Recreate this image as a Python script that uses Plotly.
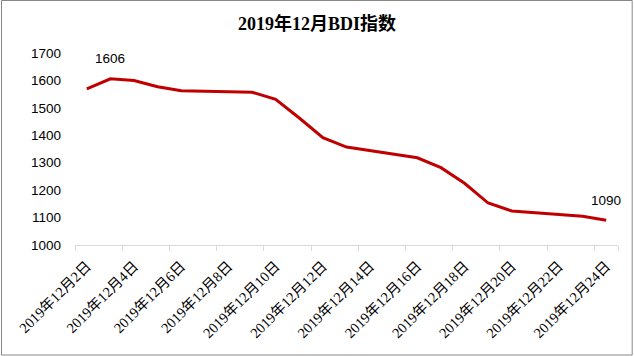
import plotly.graph_objects as go

dates = ["2019-12-02", "2019-12-03", "2019-12-04", "2019-12-05", "2019-12-06",
         "2019-12-09", "2019-12-10", "2019-12-11", "2019-12-12", "2019-12-13",
         "2019-12-16", "2019-12-17", "2019-12-18", "2019-12-19", "2019-12-20",
         "2019-12-23", "2019-12-24"]
bdi = [1569, 1606, 1600, 1577, 1562, 1557, 1531, 1463, 1391, 1357,
       1318, 1282, 1225, 1153, 1124, 1105, 1090]

tick_dates = ["2019-12-%02d" % d for d in range(2, 25, 2)]
tick_labels = ["2019年12月%d日" % d for d in range(2, 25, 2)]
boundary_ticks = ["2019-12-%02d 12:00" % d for d in range(1, 25, 2)] + ["2019-12-24 12:00"]
labelled = [1, 16]  # indices of points with data labels

W, H = 634, 356
L, R, T, B = 75, 16, 53, 111
pw, ph = W - L - R, H - T - B

SERIF = "'Liberation Serif', 'Times New Roman', 'Noto Sans CJK SC', serif"
SANS = "'Liberation Sans', Arial, sans-serif"

fig = go.Figure()
fig.add_trace(go.Scatter(x=dates, y=bdi, mode="lines",
                         line=dict(color="#C00000", width=3), hoverinfo="x+y"))
fig.add_trace(go.Scatter(x=[dates[0]], y=[bdi[0]], xaxis="x2", mode="markers",
                         marker=dict(opacity=0), showlegend=False, hoverinfo="skip"))

for i in labelled:
    fig.add_annotation(x=dates[i], y=bdi[i], text=str(bdi[i]), showarrow=False,
                       yshift=20, font=dict(family=SANS, size=13.5, color="#000"))

xrange = ["2019-12-01 12:00", "2019-12-24 12:00"]
fig.update_layout(
    width=W, height=H,
    margin=dict(l=L, r=R, t=T, b=B, autoexpand=False),
    paper_bgcolor="white", plot_bgcolor="white",
    showlegend=False,
    title=dict(text="<b>2019年12月BDI指数</b>", x=0.5, xanchor="center", y=1 - 24 / H, yanchor="middle",
               font=dict(family=SERIF, size=18, color="#000")),
    xaxis=dict(type="date", range=xrange, tickmode="array", tickvals=tick_dates, ticktext=tick_labels,
               tickangle=-45, ticks="", showgrid=False, showline=True, linecolor="#d9d9d9", linewidth=1,
               zeroline=False, automargin=False, ticklabelstandoff=6,
               tickfont=dict(family=SERIF, size=14.5, color="#000")),
    xaxis2=dict(type="date", range=xrange, overlaying="x", side="bottom", tickmode="array",
                tickvals=boundary_ticks, showticklabels=False, ticks="outside", ticklen=5,
                tickcolor="#d9d9d9", tickwidth=1, showgrid=False, showline=False, zeroline=False,
                automargin=False),
    yaxis=dict(range=[1000, 1700], dtick=100, showgrid=False, showline=False, zeroline=False,
               ticks="", ticklabelstandoff=13, automargin=False,
               tickfont=dict(family=SANS, size=13.5, color="#000")),
)
fig.add_shape(type="rect", xref="paper", yref="paper",
              x0=-(L - 1.5) / pw, x1=1 + (R - 1.8) / pw,
              y0=-(B - 1.0) / ph, y1=1 + (T - 0.5) / ph,
              line=dict(color="#888888", width=1), layer="below")

fig.write_html("out.html", config={"displayModeBar": False},
               post_script="document.body.style.margin='0';document.body.style.padding='0';")
